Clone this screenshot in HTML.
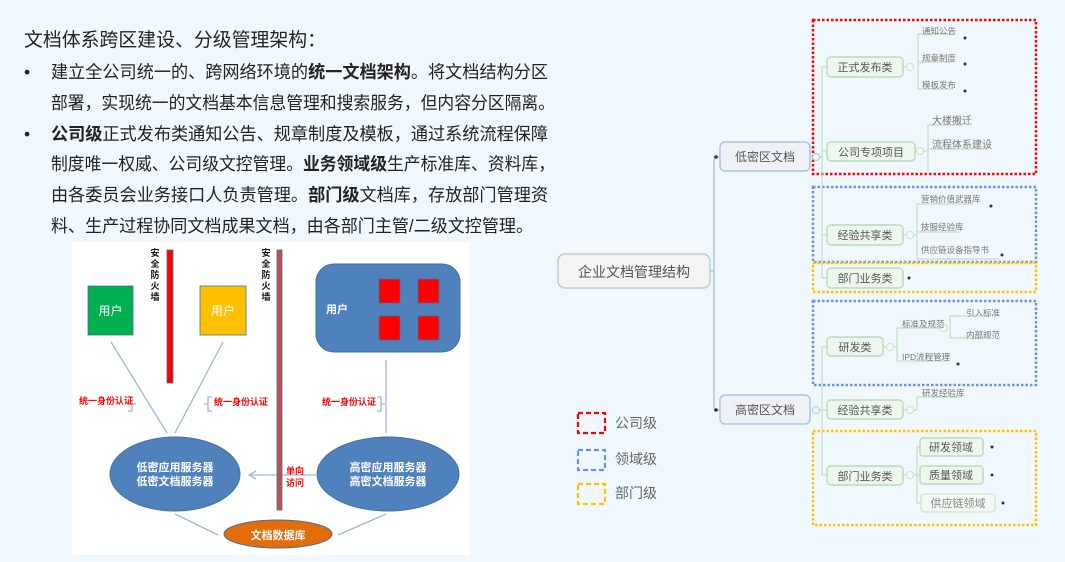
<!DOCTYPE html>
<html><head><meta charset="utf-8"><style>
html,body{margin:0;padding:0;background:#f1f8fd;}
svg{display:block;font-family:"Liberation Sans","Noto Sans CJK SC",sans-serif;}
</style></head><body>
<svg width="1065" height="562" viewBox="0 0 1065 562" xmlns="http://www.w3.org/2000/svg">
<rect width="1065" height="562" fill="#f1f8fd"/>
<!-- left text -->
<g fill="#222">
<text x="24" y="46" font-size="19" textLength="302" lengthAdjust="spacingAndGlyphs">文档体系跨区建设、分级管理架构：</text>
<g font-size="17.5">
<text x="24" y="78">•</text>
<text x="51" y="78" textLength="497" lengthAdjust="spacingAndGlyphs">建立全公司统一的、跨网络环境的<tspan font-weight="bold">统一文档架构</tspan>。将文档结构分区</text>
<text x="51" y="109" textLength="504" lengthAdjust="spacingAndGlyphs">部署，实现统一的文档基本信息管理和搜索服务，但内容分区隔离。</text>
<text x="24" y="140">•</text>
<text x="51" y="140" textLength="497" lengthAdjust="spacingAndGlyphs"><tspan font-weight="bold">公司级</tspan>正式发布类通知公告、规章制度及模板，通过系统流程保障</text>
<text x="51" y="170" textLength="504" lengthAdjust="spacingAndGlyphs">制度唯一权威、公司级文控管理。<tspan font-weight="bold">业务领域级</tspan>生产标准库、资料库，</text>
<text x="51" y="201" textLength="497" lengthAdjust="spacingAndGlyphs">由各委员会业务接口人负责管理。<tspan font-weight="bold">部门级</tspan>文档库，存放部门管理资</text>
<text x="51" y="232" textLength="482" lengthAdjust="spacingAndGlyphs">料、生产过程协同文档成果文档，由各部门主管/二级文控管理。</text>
</g></g>
<!-- left diagram -->
<rect x="72" y="242" width="398" height="313" fill="#fff"/>
<g stroke="#9bb8da" stroke-width="1.3" fill="none">
<line x1="111" y1="342" x2="167" y2="433"/>
<line x1="223" y1="342" x2="175" y2="433"/>
<line x1="386" y1="360" x2="386" y2="433"/>
<line x1="175" y1="514" x2="218" y2="535"/>
<line x1="386" y1="514" x2="338" y2="535"/>
<line x1="316" y1="475" x2="250" y2="475"/>
<polyline points="256,471 249,475 256,479"/>
<path d="M128 397 h4 v14 h-4 M132 404 h4"/>
<path d="M212 397 h-4 v14 h4 M208 404 h-4"/>
<path d="M377 397 h4 v14 h-4 M381 404 h4"/>
</g>
<rect x="88" y="286" width="45" height="49" fill="#00b050" stroke="#41719c" stroke-width="0.8"/>
<text x="110.5" y="315" font-size="12" fill="#fff" text-anchor="middle">用户</text>
<rect x="200" y="286" width="46" height="49" fill="#ffc000" stroke="#41719c" stroke-width="0.8"/>
<text x="223" y="315" font-size="12" fill="#fff" text-anchor="middle">用户</text>
<rect x="167" y="250" width="6" height="133" fill="#ff0000" stroke="#41719c" stroke-width="0.8"/>
<rect x="277" y="250" width="5" height="260" fill="#c0504d" stroke="#41719c" stroke-width="0.8"/>
<g font-size="9" font-weight="bold" fill="#111" text-anchor="middle">
<text x="155" y="256">安</text><text x="155" y="267">全</text><text x="155" y="278">防</text><text x="155" y="289">火</text><text x="155" y="300">墙</text>
<text x="266" y="256">安</text><text x="266" y="267">全</text><text x="266" y="278">防</text><text x="266" y="289">火</text><text x="266" y="300">墙</text>
</g>
<rect x="316" y="264" width="144" height="88" rx="18" fill="#4f81bd" stroke="#41719c"/>
<text x="326" y="313" font-size="11" font-weight="bold" fill="#fff">用户</text>
<g fill="#ff0000" stroke="#41719c" stroke-width="0.8">
<rect x="379" y="279" width="21" height="24"/><rect x="418" y="279" width="21" height="24"/>
<rect x="379" y="316" width="21" height="24"/><rect x="418" y="316" width="21" height="24"/>
</g>
<g font-size="9" font-weight="bold" fill="#ff0000">
<text x="79" y="404">统一身份认证</text>
<text x="214" y="405">统一身份认证</text>
<text x="322" y="405">统一身份认证</text>
<text x="286" y="474">单向</text><text x="286" y="486">访问</text>
</g>
<ellipse cx="175" cy="474" rx="65" ry="37" fill="#4f81bd" stroke="#41719c"/>
<text x="175" y="471" font-size="11" font-weight="bold" fill="#fff" text-anchor="middle">低密应用服务器</text>
<text x="175" y="485" font-size="11" font-weight="bold" fill="#fff" text-anchor="middle">低密文档服务器</text>
<ellipse cx="388" cy="474" rx="71" ry="37" fill="#4f81bd" stroke="#41719c"/>
<text x="388" y="471" font-size="11" font-weight="bold" fill="#fff" text-anchor="middle">高密应用服务器</text>
<text x="388" y="485" font-size="11" font-weight="bold" fill="#fff" text-anchor="middle">高密文档服务器</text>
<ellipse cx="278" cy="534" rx="54" ry="14" fill="#e46c0a" stroke="#41719c"/>
<text x="278" y="539" font-size="11" font-weight="bold" fill="#fff" text-anchor="middle">文档数据库</text>

<!-- mindmap -->
<g stroke="#a9c5e3" stroke-width="1.5" fill="none">
<line x1="710" y1="271" x2="714" y2="271"/>
<path d="M720 157 h-3 q-3 0 -3 4 v245 q0 4 3 4 h3"/>
</g>
<circle cx="716" cy="157" r="1.8" fill="#333"/><circle cx="716" cy="410" r="1.8" fill="#333"/>
<rect x="558" y="254" width="152" height="34" rx="7" fill="#f4f4f4" stroke="#c8c8c8" stroke-width="1.5"/>
<text x="634" y="277" font-size="14" fill="#555" text-anchor="middle">企业文档管理结构</text>
<rect x="720" y="142" width="90" height="29" rx="5" fill="#eef2f8" stroke="#a9c5e3" stroke-width="1.5"/>
<text x="765" y="161" font-size="12" fill="#555" text-anchor="middle">低密区文档</text>
<rect x="720" y="395" width="90" height="29" rx="5" fill="#eef2f8" stroke="#a9c5e3" stroke-width="1.5"/>
<text x="765" y="414" font-size="12" fill="#555" text-anchor="middle">高密区文档</text>

<!-- dashed groups -->
<g fill="none" stroke-width="2.5" stroke-dasharray="2.5 2">
<rect x="813" y="20" width="223" height="154" stroke="#ff0000"/>
<rect x="813" y="187" width="223" height="75" stroke="#6a8ff0"/>
<rect x="813" y="263" width="223" height="29" stroke="#ffc000"/>
<rect x="813" y="301" width="223" height="84" stroke="#6a8ff0"/>
<rect x="813" y="431" width="223" height="94" stroke="#ffc000"/>
</g>

<!-- branch lines -->
<g stroke="#bfe0c2" stroke-width="1.2" fill="none">
<path d="M815 157 h7 M822 67 v211 M822 67 h5 M822 151 h5 M822 235 h5 M822 278 h5"/>
<path d="M815 410 h7 M822 347 v128 M822 347 h5 M822 410 h5 M822 475 h5"/>
<path d="M903 67 h10 M918 67 v-33 h35 M918 67 v-5 h35 M918 67 v22 h35"/>
<path d="M913 151 h15 M928 151 v-26 h35 M928 151 v-2 h60 M928 151 v20"/>
<path d="M903 235 h14 M917 235 v-31 h56 M917 235 v-3 h42 M917 235 v24 h82"/>
<path d="M883 347 h14 M897 347 v-19 h45 M897 347 v14 h50 M950 328 v-12 h40 M950 328 v10 h40"/>
<path d="M903 410 h14 M917 410 v-13 h45"/>
<path d="M903 475 h14 M917 475 v-28 h3 M917 475 v0 h3 M917 475 v28 h4"/>
</g>
<g fill="#f5fbf5" stroke="#c5e3c7" stroke-width="1">
<circle cx="816" cy="157" r="3.5" fill="#f1f8fd" stroke="#a9c5e3"/><circle cx="816" cy="410" r="3.5" fill="#f1f8fd" stroke="#a9c5e3"/>
<circle cx="910" cy="67" r="3.5"/><circle cx="920" cy="151" r="3.5"/><circle cx="910" cy="235" r="3.5"/>
<circle cx="890" cy="347" r="3.5"/><circle cx="944" cy="328" r="3.5"/><circle cx="910" cy="410" r="3.5"/><circle cx="910" cy="475" r="3.5"/>
</g>
<g fill="#333">
<circle cx="965" cy="38" r="1.5"/><circle cx="965" cy="64" r="1.5"/><circle cx="965" cy="91" r="1.5"/>
<circle cx="991" cy="206" r="1.5"/><circle cx="1002" cy="255" r="1.5"/><circle cx="909" cy="278" r="1.5"/>
<circle cx="958" cy="364" r="1.5"/><circle cx="992" cy="447" r="1.5"/><circle cx="992" cy="475" r="1.5"/><circle cx="1003" cy="503" r="1.5"/>
</g>
<g fill="#eef7ee" stroke="#b8dcb8" stroke-width="1.5">
<rect x="827" y="57" width="76" height="20" rx="4"/>
<rect x="827" y="142" width="88" height="19" rx="4"/>
<rect x="827" y="225" width="76" height="20" rx="4"/>
<rect x="827" y="268" width="76" height="20" rx="4"/>
<rect x="827" y="337" width="56" height="19" rx="4"/>
<rect x="827" y="400" width="76" height="19" rx="4"/>
<rect x="827" y="466" width="76" height="19" rx="4"/>
<rect x="920" y="438" width="63" height="18" rx="3"/>
<rect x="920" y="466" width="63" height="18" rx="3"/>
<rect x="921" y="494" width="74" height="18" rx="3" fill="#f4f9f4" stroke="#d2e8d3"/>
</g>
<g font-size="11" fill="#555" text-anchor="middle">
<text x="865" y="71">正式发布类</text>
<text x="871" y="156">公司专项项目</text>
<text x="865" y="239">经验共享类</text>
<text x="865" y="282">部门业务类</text>
<text x="855" y="351">研发类</text>
<text x="865" y="414">经验共享类</text>
<text x="865" y="480">部门业务类</text>
<text x="951" y="451">研发领域</text>
<text x="951" y="479">质量领域</text>
<text x="958" y="507" fill="#888">供应链领域</text>
</g>
<g font-size="8.5" fill="#777">
<text x="922" y="34">通知公告</text><text x="922" y="61">规章制度</text><text x="922" y="88">模板发布</text>
<text x="932" y="124" font-size="10">大楼搬迁</text><text x="932" y="148" font-size="10">流程体系建设</text>
<text x="921" y="202">营销价值武器库</text><text x="921" y="230">技服经验库</text><text x="921" y="253">供应链设备指导书</text>
<text x="902" y="327">标准及规范</text><text x="966" y="316">引入标准</text><text x="966" y="338">内部规范</text>
<text x="902" y="360">IPD流程管理</text><text x="922" y="396">研发经验库</text>
</g>

<!-- legend -->
<g fill="none" stroke-width="2.2" stroke-dasharray="5 3">
<rect x="578" y="413" width="27" height="20" stroke="#ff0000"/>
<rect x="578" y="450" width="27" height="20" stroke="#6a8ff0"/>
<rect x="578" y="484" width="27" height="20" stroke="#ffc000"/>
</g>
<g font-size="14" fill="#666">
<text x="615" y="428">公司级</text><text x="615" y="464">领域级</text><text x="615" y="498">部门级</text>
</g>
</svg>
</body></html>
